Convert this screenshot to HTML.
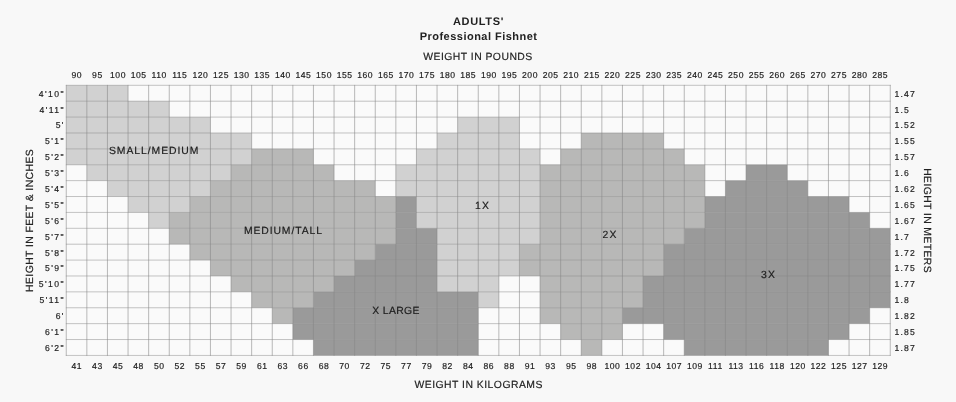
<!DOCTYPE html>
<html lang="en">
<head>
<meta charset="utf-8">
<title>Adults' Professional Fishnet size chart</title>
<style>
html,body{margin:0;padding:0;background:#f8f8f8;}
body{width:956px;height:402px;position:relative;overflow:hidden;font-family:"Liberation Sans",sans-serif;}
svg text{white-space:pre;text-rendering:geometricPrecision;}
</style>
</head>
<body>
<svg width="956" height="402" viewBox="0 0 956 402" style="position:absolute;left:0;top:0">
<rect x="0" y="0" width="956" height="402" fill="#f8f8f8"/>
<rect x="66.25" y="85.3" width="824.00" height="270.13" fill="#fafafa"/>
<g>
<rect x="66.25" y="85.30" width="61.80" height="15.89" fill="#d1d1d1"/>
<rect x="66.25" y="101.19" width="103.00" height="15.89" fill="#d1d1d1"/>
<rect x="66.25" y="117.08" width="144.20" height="15.89" fill="#d1d1d1"/>
<rect x="457.65" y="117.08" width="61.80" height="15.89" fill="#d1d1d1"/>
<rect x="66.25" y="132.97" width="185.40" height="15.89" fill="#d1d1d1"/>
<rect x="437.05" y="132.97" width="82.40" height="15.89" fill="#d1d1d1"/>
<rect x="581.25" y="132.97" width="82.40" height="15.89" fill="#b8b8b7"/>
<rect x="66.25" y="148.86" width="185.40" height="15.89" fill="#d1d1d1"/>
<rect x="251.65" y="148.86" width="61.80" height="15.89" fill="#b8b8b7"/>
<rect x="416.45" y="148.86" width="123.60" height="15.89" fill="#d1d1d1"/>
<rect x="560.65" y="148.86" width="123.60" height="15.89" fill="#b8b8b7"/>
<rect x="86.85" y="164.75" width="144.20" height="15.89" fill="#d1d1d1"/>
<rect x="231.05" y="164.75" width="103.00" height="15.89" fill="#b8b8b7"/>
<rect x="395.85" y="164.75" width="144.20" height="15.89" fill="#d1d1d1"/>
<rect x="540.05" y="164.75" width="164.80" height="15.89" fill="#b8b8b7"/>
<rect x="746.05" y="164.75" width="41.20" height="15.89" fill="#9a9a9a"/>
<rect x="107.45" y="180.64" width="103.00" height="15.89" fill="#d1d1d1"/>
<rect x="210.45" y="180.64" width="164.80" height="15.89" fill="#b8b8b7"/>
<rect x="395.85" y="180.64" width="144.20" height="15.89" fill="#d1d1d1"/>
<rect x="540.05" y="180.64" width="164.80" height="15.89" fill="#b8b8b7"/>
<rect x="725.45" y="180.64" width="82.40" height="15.89" fill="#9a9a9a"/>
<rect x="128.05" y="196.53" width="61.80" height="15.89" fill="#d1d1d1"/>
<rect x="189.85" y="196.53" width="206.00" height="15.89" fill="#b8b8b7"/>
<rect x="395.85" y="196.53" width="20.60" height="15.89" fill="#9a9a9a"/>
<rect x="416.45" y="196.53" width="123.60" height="15.89" fill="#d1d1d1"/>
<rect x="540.05" y="196.53" width="164.80" height="15.89" fill="#b8b8b7"/>
<rect x="704.85" y="196.53" width="144.20" height="15.89" fill="#9a9a9a"/>
<rect x="148.65" y="212.42" width="20.60" height="15.89" fill="#d1d1d1"/>
<rect x="169.25" y="212.42" width="226.60" height="15.89" fill="#b8b8b7"/>
<rect x="395.85" y="212.42" width="20.60" height="15.89" fill="#9a9a9a"/>
<rect x="416.45" y="212.42" width="123.60" height="15.89" fill="#d1d1d1"/>
<rect x="540.05" y="212.42" width="164.80" height="15.89" fill="#b8b8b7"/>
<rect x="704.85" y="212.42" width="164.80" height="15.89" fill="#9a9a9a"/>
<rect x="169.25" y="228.31" width="226.60" height="15.89" fill="#b8b8b7"/>
<rect x="395.85" y="228.31" width="41.20" height="15.89" fill="#9a9a9a"/>
<rect x="437.05" y="228.31" width="103.00" height="15.89" fill="#d1d1d1"/>
<rect x="540.05" y="228.31" width="144.20" height="15.89" fill="#b8b8b7"/>
<rect x="684.25" y="228.31" width="206.00" height="15.89" fill="#9a9a9a"/>
<rect x="189.85" y="244.20" width="185.40" height="15.89" fill="#b8b8b7"/>
<rect x="375.25" y="244.20" width="61.80" height="15.89" fill="#9a9a9a"/>
<rect x="437.05" y="244.20" width="82.40" height="15.89" fill="#d1d1d1"/>
<rect x="519.45" y="244.20" width="144.20" height="15.89" fill="#b8b8b7"/>
<rect x="663.65" y="244.20" width="226.60" height="15.89" fill="#9a9a9a"/>
<rect x="210.45" y="260.09" width="144.20" height="15.89" fill="#b8b8b7"/>
<rect x="354.65" y="260.09" width="82.40" height="15.89" fill="#9a9a9a"/>
<rect x="437.05" y="260.09" width="82.40" height="15.89" fill="#d1d1d1"/>
<rect x="519.45" y="260.09" width="144.20" height="15.89" fill="#b8b8b7"/>
<rect x="663.65" y="260.09" width="226.60" height="15.89" fill="#9a9a9a"/>
<rect x="231.05" y="275.98" width="103.00" height="15.89" fill="#b8b8b7"/>
<rect x="334.05" y="275.98" width="103.00" height="15.89" fill="#9a9a9a"/>
<rect x="437.05" y="275.98" width="61.80" height="15.89" fill="#d1d1d1"/>
<rect x="540.05" y="275.98" width="103.00" height="15.89" fill="#b8b8b7"/>
<rect x="643.05" y="275.98" width="247.20" height="15.89" fill="#9a9a9a"/>
<rect x="251.65" y="291.87" width="61.80" height="15.89" fill="#b8b8b7"/>
<rect x="313.45" y="291.87" width="164.80" height="15.89" fill="#9a9a9a"/>
<rect x="478.25" y="291.87" width="20.60" height="15.89" fill="#d1d1d1"/>
<rect x="540.05" y="291.87" width="103.00" height="15.89" fill="#b8b8b7"/>
<rect x="643.05" y="291.87" width="247.20" height="15.89" fill="#9a9a9a"/>
<rect x="272.25" y="307.76" width="20.60" height="15.89" fill="#b8b8b7"/>
<rect x="292.85" y="307.76" width="185.40" height="15.89" fill="#9a9a9a"/>
<rect x="540.05" y="307.76" width="82.40" height="15.89" fill="#b8b8b7"/>
<rect x="622.45" y="307.76" width="247.20" height="15.89" fill="#9a9a9a"/>
<rect x="292.85" y="323.65" width="185.40" height="15.89" fill="#9a9a9a"/>
<rect x="560.65" y="323.65" width="61.80" height="15.89" fill="#b8b8b7"/>
<rect x="663.65" y="323.65" width="185.40" height="15.89" fill="#9a9a9a"/>
<rect x="313.45" y="339.54" width="164.80" height="15.89" fill="#9a9a9a"/>
<rect x="581.25" y="339.54" width="20.60" height="15.89" fill="#b8b8b7"/>
<rect x="684.25" y="339.54" width="144.20" height="15.89" fill="#9a9a9a"/>
</g>
<g stroke="#878787" stroke-width="0.9" stroke-opacity="0.64">
<line x1="66.25" y1="84.90" x2="66.25" y2="355.83"/>
<line x1="86.85" y1="84.90" x2="86.85" y2="355.83"/>
<line x1="107.45" y1="84.90" x2="107.45" y2="355.83"/>
<line x1="128.05" y1="84.90" x2="128.05" y2="355.83"/>
<line x1="148.65" y1="84.90" x2="148.65" y2="355.83"/>
<line x1="169.25" y1="84.90" x2="169.25" y2="355.83"/>
<line x1="189.85" y1="84.90" x2="189.85" y2="355.83"/>
<line x1="210.45" y1="84.90" x2="210.45" y2="355.83"/>
<line x1="231.05" y1="84.90" x2="231.05" y2="355.83"/>
<line x1="251.65" y1="84.90" x2="251.65" y2="355.83"/>
<line x1="272.25" y1="84.90" x2="272.25" y2="355.83"/>
<line x1="292.85" y1="84.90" x2="292.85" y2="355.83"/>
<line x1="313.45" y1="84.90" x2="313.45" y2="355.83"/>
<line x1="334.05" y1="84.90" x2="334.05" y2="355.83"/>
<line x1="354.65" y1="84.90" x2="354.65" y2="355.83"/>
<line x1="375.25" y1="84.90" x2="375.25" y2="355.83"/>
<line x1="395.85" y1="84.90" x2="395.85" y2="355.83"/>
<line x1="416.45" y1="84.90" x2="416.45" y2="355.83"/>
<line x1="437.05" y1="84.90" x2="437.05" y2="355.83"/>
<line x1="457.65" y1="84.90" x2="457.65" y2="355.83"/>
<line x1="478.25" y1="84.90" x2="478.25" y2="355.83"/>
<line x1="498.85" y1="84.90" x2="498.85" y2="355.83"/>
<line x1="519.45" y1="84.90" x2="519.45" y2="355.83"/>
<line x1="540.05" y1="84.90" x2="540.05" y2="355.83"/>
<line x1="560.65" y1="84.90" x2="560.65" y2="355.83"/>
<line x1="581.25" y1="84.90" x2="581.25" y2="355.83"/>
<line x1="601.85" y1="84.90" x2="601.85" y2="355.83"/>
<line x1="622.45" y1="84.90" x2="622.45" y2="355.83"/>
<line x1="643.05" y1="84.90" x2="643.05" y2="355.83"/>
<line x1="663.65" y1="84.90" x2="663.65" y2="355.83"/>
<line x1="684.25" y1="84.90" x2="684.25" y2="355.83"/>
<line x1="704.85" y1="84.90" x2="704.85" y2="355.83"/>
<line x1="725.45" y1="84.90" x2="725.45" y2="355.83"/>
<line x1="746.05" y1="84.90" x2="746.05" y2="355.83"/>
<line x1="766.65" y1="84.90" x2="766.65" y2="355.83"/>
<line x1="787.25" y1="84.90" x2="787.25" y2="355.83"/>
<line x1="807.85" y1="84.90" x2="807.85" y2="355.83"/>
<line x1="828.45" y1="84.90" x2="828.45" y2="355.83"/>
<line x1="849.05" y1="84.90" x2="849.05" y2="355.83"/>
<line x1="869.65" y1="84.90" x2="869.65" y2="355.83"/>
<line x1="890.25" y1="84.90" x2="890.25" y2="355.83"/>
</g>
<g stroke="#878787" stroke-width="0.9" stroke-opacity="0.54">
<line x1="65.85" y1="85.30" x2="890.65" y2="85.30"/>
<line x1="65.85" y1="101.19" x2="890.65" y2="101.19"/>
<line x1="65.85" y1="117.08" x2="890.65" y2="117.08"/>
<line x1="65.85" y1="132.97" x2="890.65" y2="132.97"/>
<line x1="65.85" y1="148.86" x2="890.65" y2="148.86"/>
<line x1="65.85" y1="164.75" x2="890.65" y2="164.75"/>
<line x1="65.85" y1="180.64" x2="890.65" y2="180.64"/>
<line x1="65.85" y1="196.53" x2="890.65" y2="196.53"/>
<line x1="65.85" y1="212.42" x2="890.65" y2="212.42"/>
<line x1="65.85" y1="228.31" x2="890.65" y2="228.31"/>
<line x1="65.85" y1="244.20" x2="890.65" y2="244.20"/>
<line x1="65.85" y1="260.09" x2="890.65" y2="260.09"/>
<line x1="65.85" y1="275.98" x2="890.65" y2="275.98"/>
<line x1="65.85" y1="291.87" x2="890.65" y2="291.87"/>
<line x1="65.85" y1="307.76" x2="890.65" y2="307.76"/>
<line x1="65.85" y1="323.65" x2="890.65" y2="323.65"/>
<line x1="65.85" y1="339.54" x2="890.65" y2="339.54"/>
<line x1="65.85" y1="355.43" x2="890.65" y2="355.43"/>
</g>
<g font-family='"Liberation Sans", sans-serif' fill="#222222" stroke="#222222" stroke-width="0.18" stroke-linejoin="round">
<text x="478.5" y="24.5" text-anchor="middle" font-size="11" font-weight="bold" stroke="none" letter-spacing="0.65">ADULTS'</text>
<text x="478.6" y="39.5" text-anchor="middle" font-size="11" font-weight="bold" stroke="none" letter-spacing="0.48">Professional Fishnet</text>
<text x="478.0" y="59.6" text-anchor="middle" font-size="10.4" letter-spacing="0.47">WEIGHT IN POUNDS</text>
<text x="478.7" y="388.0" text-anchor="middle" font-size="10.4" letter-spacing="0.48">WEIGHT IN KILOGRAMS</text>
<g font-size="8.6" text-anchor="middle" letter-spacing="0.5">
<text x="76.80" y="77.9">90</text>
<text x="97.40" y="77.9">95</text>
<text x="118.00" y="77.9">100</text>
<text x="138.60" y="77.9">105</text>
<text x="159.20" y="77.9">110</text>
<text x="179.80" y="77.9">115</text>
<text x="200.40" y="77.9">120</text>
<text x="221.00" y="77.9">125</text>
<text x="241.60" y="77.9">130</text>
<text x="262.20" y="77.9">135</text>
<text x="282.80" y="77.9">140</text>
<text x="303.40" y="77.9">145</text>
<text x="324.00" y="77.9">150</text>
<text x="344.60" y="77.9">155</text>
<text x="365.20" y="77.9">160</text>
<text x="385.80" y="77.9">165</text>
<text x="406.40" y="77.9">170</text>
<text x="427.00" y="77.9">175</text>
<text x="447.60" y="77.9">180</text>
<text x="468.20" y="77.9">185</text>
<text x="488.80" y="77.9">190</text>
<text x="509.40" y="77.9">195</text>
<text x="530.00" y="77.9">200</text>
<text x="550.60" y="77.9">205</text>
<text x="571.20" y="77.9">210</text>
<text x="591.80" y="77.9">215</text>
<text x="612.40" y="77.9">220</text>
<text x="633.00" y="77.9">225</text>
<text x="653.60" y="77.9">230</text>
<text x="674.20" y="77.9">235</text>
<text x="694.80" y="77.9">240</text>
<text x="715.40" y="77.9">245</text>
<text x="736.00" y="77.9">250</text>
<text x="756.60" y="77.9">255</text>
<text x="777.20" y="77.9">260</text>
<text x="797.80" y="77.9">265</text>
<text x="818.40" y="77.9">270</text>
<text x="839.00" y="77.9">275</text>
<text x="859.60" y="77.9">280</text>
<text x="880.20" y="77.9">285</text>
<text x="76.80" y="368.9">41</text>
<text x="97.40" y="368.9">43</text>
<text x="118.00" y="368.9">45</text>
<text x="138.60" y="368.9">48</text>
<text x="159.20" y="368.9">50</text>
<text x="179.80" y="368.9">52</text>
<text x="200.40" y="368.9">55</text>
<text x="221.00" y="368.9">57</text>
<text x="241.60" y="368.9">59</text>
<text x="262.20" y="368.9">61</text>
<text x="282.80" y="368.9">63</text>
<text x="303.40" y="368.9">66</text>
<text x="324.00" y="368.9">68</text>
<text x="344.60" y="368.9">70</text>
<text x="365.20" y="368.9">72</text>
<text x="385.80" y="368.9">75</text>
<text x="406.40" y="368.9">77</text>
<text x="427.00" y="368.9">79</text>
<text x="447.60" y="368.9">82</text>
<text x="468.20" y="368.9">84</text>
<text x="488.80" y="368.9">86</text>
<text x="509.40" y="368.9">88</text>
<text x="530.00" y="368.9">91</text>
<text x="550.60" y="368.9">93</text>
<text x="571.20" y="368.9">95</text>
<text x="591.80" y="368.9">98</text>
<text x="612.40" y="368.9">100</text>
<text x="633.00" y="368.9">102</text>
<text x="653.60" y="368.9">104</text>
<text x="674.20" y="368.9">107</text>
<text x="694.80" y="368.9">109</text>
<text x="715.40" y="368.9">111</text>
<text x="736.00" y="368.9">113</text>
<text x="756.60" y="368.9">116</text>
<text x="777.20" y="368.9">118</text>
<text x="797.80" y="368.9">120</text>
<text x="818.40" y="368.9">122</text>
<text x="839.00" y="368.9">125</text>
<text x="859.60" y="368.9">127</text>
<text x="880.20" y="368.9">129</text>
</g>
<g font-size="8.6" letter-spacing="1.2">
<text x="64.9" y="96.70" text-anchor="end" letter-spacing="1.4">4'10&quot;</text>
<text x="64.9" y="112.58" text-anchor="end" letter-spacing="1.4">4'11&quot;</text>
<text x="64.9" y="128.47" text-anchor="end" letter-spacing="1.4">5'</text>
<text x="64.9" y="144.36" text-anchor="end" letter-spacing="1.4">5'1&quot;</text>
<text x="64.9" y="160.25" text-anchor="end" letter-spacing="1.4">5'2&quot;</text>
<text x="64.9" y="176.14" text-anchor="end" letter-spacing="1.4">5'3&quot;</text>
<text x="64.9" y="192.03" text-anchor="end" letter-spacing="1.4">5'4&quot;</text>
<text x="64.9" y="207.93" text-anchor="end" letter-spacing="1.4">5'5&quot;</text>
<text x="64.9" y="223.81" text-anchor="end" letter-spacing="1.4">5'6&quot;</text>
<text x="64.9" y="239.70" text-anchor="end" letter-spacing="1.4">5'7&quot;</text>
<text x="64.9" y="255.59" text-anchor="end" letter-spacing="1.4">5'8&quot;</text>
<text x="64.9" y="271.49" text-anchor="end" letter-spacing="1.4">5'9&quot;</text>
<text x="64.9" y="287.38" text-anchor="end" letter-spacing="1.4">5'10&quot;</text>
<text x="64.9" y="303.26" text-anchor="end" letter-spacing="1.4">5'11&quot;</text>
<text x="64.9" y="319.15" text-anchor="end" letter-spacing="1.4">6'</text>
<text x="64.9" y="335.05" text-anchor="end" letter-spacing="1.4">6'1&quot;</text>
<text x="64.9" y="350.94" text-anchor="end" letter-spacing="1.4">6'2&quot;</text>
<text x="894.5" y="96.70" text-anchor="start">1.47</text>
<text x="894.5" y="112.58" text-anchor="start">1.5</text>
<text x="894.5" y="128.47" text-anchor="start">1.52</text>
<text x="894.5" y="144.36" text-anchor="start">1.55</text>
<text x="894.5" y="160.25" text-anchor="start">1.57</text>
<text x="894.5" y="176.14" text-anchor="start">1.6</text>
<text x="894.5" y="192.03" text-anchor="start">1.62</text>
<text x="894.5" y="207.93" text-anchor="start">1.65</text>
<text x="894.5" y="223.81" text-anchor="start">1.67</text>
<text x="894.5" y="239.70" text-anchor="start">1.7</text>
<text x="894.5" y="255.59" text-anchor="start">1.72</text>
<text x="894.5" y="271.49" text-anchor="start">1.75</text>
<text x="894.5" y="287.38" text-anchor="start">1.77</text>
<text x="894.5" y="303.26" text-anchor="start">1.8</text>
<text x="894.5" y="319.15" text-anchor="start">1.82</text>
<text x="894.5" y="335.05" text-anchor="start">1.85</text>
<text x="894.5" y="350.94" text-anchor="start">1.87</text>
</g>
<text transform="translate(33.0,220.4) rotate(-90)" text-anchor="middle" font-size="10.4" letter-spacing="0.41">HEIGHT IN FEET &amp; INCHES</text>
<text transform="translate(924.1,220.6) rotate(90)" text-anchor="middle" font-size="10.4" letter-spacing="0.39">HEIGHT IN METERS</text>
<g font-size="10.4" text-anchor="middle" fill="#1c1c1c">
<text x="154.2" y="153.8" letter-spacing="0.95">SMALL/MEDIUM</text>
<text x="283.4" y="234.1" letter-spacing="0.9">MEDIUM/TALL</text>
<text x="396.0" y="314.1" letter-spacing="0.33">X LARGE</text>
<text x="482.6" y="209.0" letter-spacing="1.2">1X</text>
<text x="610.0" y="238.1" letter-spacing="1.2">2X</text>
<text x="768.5" y="278.1" letter-spacing="1.2">3X</text>
</g>
</g>
</svg>
</body>
</html>
